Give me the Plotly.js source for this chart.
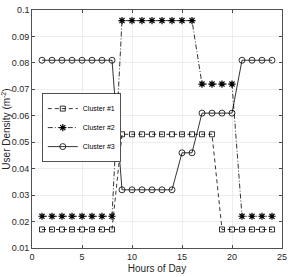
<!DOCTYPE html>
<html>
<head>
<meta charset="utf-8">
<script src="https://cdn.plot.ly/plotly-3.0.1.min.js"></script>
<style>html,body{margin:0;padding:0;background:#fff;}#chart{width:291px;height:277px;}</style>
</head>
<body>
<div id="chart"></div>
<script>
const hours = [1,2,3,4,5,6,7,8,9,10,11,12,13,14,15,16,17,18,19,20,21,22,23,24];
const cluster1 = [0.017,0.017,0.017,0.017,0.017,0.017,0.017,0.017,0.053,0.053,0.053,0.053,0.053,0.053,0.053,0.053,0.053,0.053,0.017,0.017,0.017,0.017,0.017,0.017];
const cluster2 = [0.022,0.022,0.022,0.022,0.022,0.022,0.022,0.022,0.096,0.096,0.096,0.096,0.096,0.096,0.096,0.096,0.072,0.072,0.072,0.072,0.022,0.022,0.022,0.022];
const cluster3 = [0.081,0.081,0.081,0.081,0.081,0.081,0.081,0.081,0.032,0.032,0.032,0.032,0.032,0.032,0.046,0.046,0.061,0.061,0.061,0.061,0.081,0.081,0.081,0.081];
const seriesNames = ['Cluster #1','Cluster #2','Cluster #3'];
const xTitle = 'Hours of Day';
const yTitle = 'User Density (m<sup>-2</sup>)';

const ink = '#262626';
const traces = [
  {x: hours, y: cluster1, name: seriesNames[0], mode: 'lines+markers',
   line: {color: '#000', width: 0.8, dash: '4px,3px'},
   marker: {symbol: 'square-open', size: 5, color: '#000', line: {width: 0.8}}},
  {x: hours, y: cluster2, name: seriesNames[1], mode: 'lines+markers',
   line: {color: '#000', width: 0.8, dash: '5px,2px,1px,2px'},
   marker: {symbol: 'asterisk-open', size: 6, color: '#000', line: {width: 1.2, color: '#000'}}},
  {x: hours, y: cluster3, name: seriesNames[2], mode: 'lines+markers',
   line: {color: '#000', width: 0.8},
   marker: {symbol: 'circle-open', size: 6, color: '#000', line: {width: 0.8}}}
];

const layout = {
  width: 291, height: 277,
  margin: {l: 32, r: 9, t: 10, b: 29, pad: 0},
  paper_bgcolor: '#fff', plot_bgcolor: '#fff',
  font: {family: 'Liberation Sans, Arial, sans-serif', size: 9, color: ink},
  showlegend: true,
  legend: {x: 0.04, y: 0.65, xanchor: 'left', yanchor: 'top',
           bgcolor: '#fff', bordercolor: ink, borderwidth: 0.8,
           font: {size: 7, color: '#000'}, itemwidth: 30, tracegroupgap: 0},
  xaxis: {range: [0, 25], dtick: 5, tick0: 0, showgrid: true, gridcolor: '#e3e3e3', gridwidth: 0.6,
          zeroline: false, showline: true, linecolor: ink, linewidth: 0.8, mirror: 'ticks',
          ticks: 'inside', ticklen: 3, tickcolor: ink, tickwidth: 0.8,
          tickfont: {size: 9, color: ink}, automargin: false,
          title: {text: xTitle, font: {size: 10, color: ink}, standoff: 4}},
  yaxis: {range: [0.01, 0.1], dtick: 0.01, tick0: 0.01, showgrid: true, gridcolor: '#e3e3e3', gridwidth: 0.6,
          zeroline: false, showline: true, linecolor: ink, linewidth: 0.8, mirror: 'ticks',
          ticks: 'inside', ticklen: 3, tickcolor: ink, tickwidth: 0.8,
          tickfont: {size: 9, color: ink}, automargin: false,
          title: {text: yTitle, font: {size: 10, color: ink}, standoff: 1}}
};

Plotly.newPlot('chart', traces, layout, {displayModeBar: false, staticPlot: true});
</script>
</body>
</html>
